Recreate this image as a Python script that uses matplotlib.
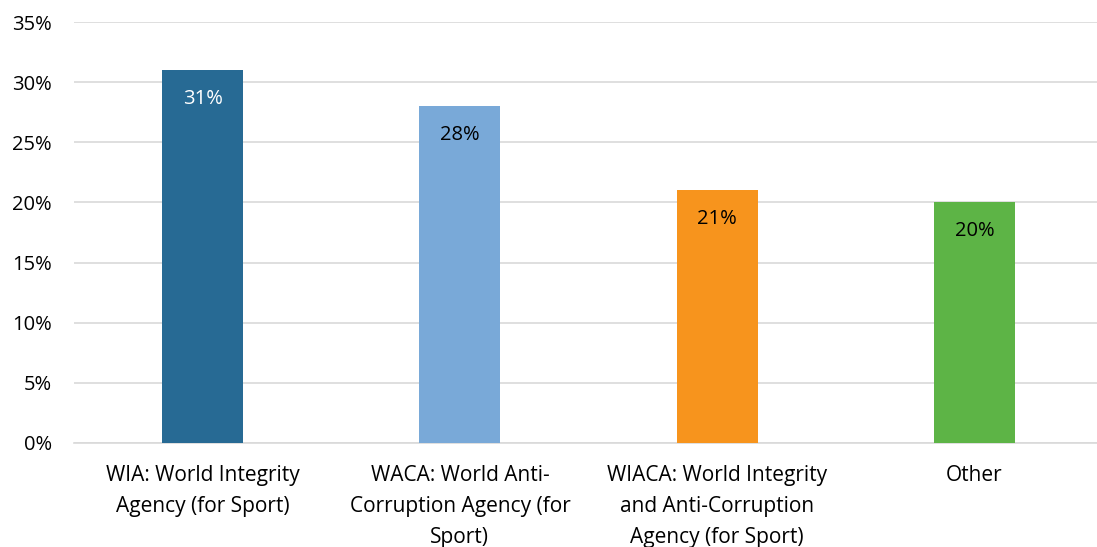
import matplotlib.pyplot as plt

categories = ['WIA: World Integrity\nAgency (for Sport)',
              'WACA: World Anti-\nCorruption Agency (for\nSport)',
              'WIACA: World Integrity\nand Anti-Corruption\nAgency (for Sport)',
              'Other']
values = [31, 28, 21, 20]
colors = ['#276A94', '#79A9D8', '#F7941D', '#5DB446']
label_colors = ['white', 'black', 'black', 'black']
yticks = [0, 5, 10, 15, 20, 25, 30, 35]


def main():
    plt.rcParams['font.family'] = ['Open Sans', 'DejaVu Sans']
    fig = plt.figure(figsize=(10.97, 5.47), dpi=100)
    ax = fig.add_axes([74 / 1097, 1 - 443 / 547, (1103 - 74) / 1097, (443 - 22) / 547])

    x = range(len(categories))
    ax.bar(x, values, width=0.315, color=colors, zorder=3)
    for i, v in enumerate(values):
        ax.text(i, v - 1.55, f'{v}%', ha='center', va='top',
                fontsize=14.5, color=label_colors[i], zorder=4)

    ax.set_xlim(-0.5, len(categories) - 0.5)
    ax.set_ylim(0, 35)
    ax.set_yticks(yticks)
    ax.set_yticklabels([f'{t}%' for t in yticks], fontsize=14.5)
    ax.set_xticks(list(x))
    ax.set_xticklabels(categories, fontsize=15, linespacing=1.62)
    ax.tick_params(axis='x', length=0, pad=16)
    ax.tick_params(axis='y', length=0, pad=16)

    ax.grid(axis='y', color='#D9D9D9', linewidth=1.2, zorder=0)
    for s in ['top', 'right', 'left']:
        ax.spines[s].set_visible(False)
    ax.spines['bottom'].set_color('#D9D9D9')
    ax.spines['bottom'].set_linewidth(1.2)

    fig.savefig('out.png', dpi=100)


if __name__ == '__main__':
    main()
